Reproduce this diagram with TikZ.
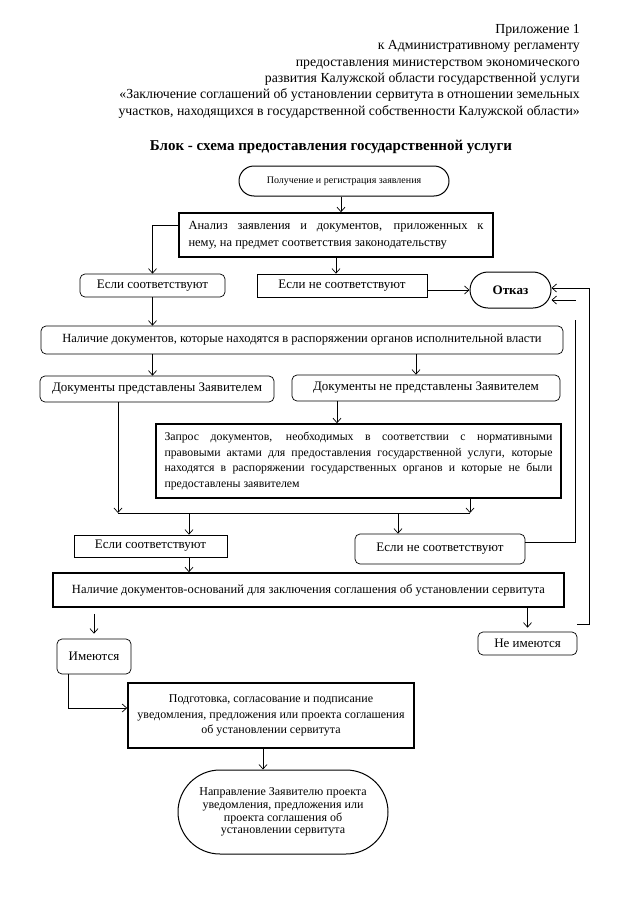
\documentclass[tikz,border=0pt]{standalone}
\usepackage{fontspec}
\setmainfont{Liberation Serif}
\usetikzlibrary{arrows.meta}
\begin{document}
\begin{tikzpicture}[x=1pt,y=-1pt,
  arr/.style={-{Straight Barb[length=4.5pt,width=8pt]}, line width=0.7pt},
  ln/.style={line width=0.7pt},
  boxr/.style={draw, line width=0.7pt, rounded corners=5pt, inner sep=0pt, align=center, font=\fontsize{13}{15}\selectfont},
  boxs/.style={draw, line width=0.7pt, inner sep=0pt, align=center, font=\fontsize{13}{15}\selectfont},
  boxt/.style={draw, line width=1.6pt, inner sep=0pt, align=center, font=\fontsize{12}{15.5}\selectfont},
  stad/.style={draw, line width=1pt, inner sep=0pt, align=center},
]
\useasboundingbox (0,0) rectangle (640,899);
\fill[white] (0,0) rectangle (640,899);

% header
\node[anchor=north east, inner sep=0pt, align=right, font=\fontsize{13.8}{16.4}\selectfont] (hdr) at (580,24)
 {Приложение 1\\
  к Административному регламенту\\
  предоставления министерством экономического\\
  развития Калужской области государственной услуги\\
  «Заключение соглашений об установлении сервитута в отношении земельных\\
  участков, находящихся в государственной собственности Калужской области»};
\node[inner sep=0pt, font=\bfseries\fontsize{15}{17}\selectfont] (ttl) at (331,147)
 {Блок - схема предоставления государственной услуги};

% nodes
\node[stad, minimum width=210pt, minimum height=30pt, rounded corners=15pt, font=\fontsize{10}{12}\selectfont] (start) at (344,181) {Получение и регистрация заявления};
\node[boxt, minimum width=314pt, minimum height=44pt, text width=295pt, align=justify, font=\fontsize{12.5}{17}\selectfont] (anal) at (336,235)
 {Анализ заявления и документов, приложенных к\linebreak нему, на предмет соответствия законодательству};
\node[boxr, minimum width=145pt, minimum height=23pt] (ifyes1) at (152.5,285.5) {Если соответствуют};
\node[boxs, minimum width=170pt, minimum height=23pt] (ifno1) at (342,285.5) {Если не соответствуют};
\node[stad, minimum width=81pt, minimum height=36pt, rounded corners=18pt, font=\bfseries\fontsize{13}{15}\selectfont] (refuse) at (510.5,290) {Отказ};
\node[boxr, minimum width=522pt, minimum height=28pt, font=\fontsize{12.5}{15}\selectfont] (avail) at (302,340) {Наличие документов, которые находятся в распоряжении органов исполнительной власти};
\node[boxr, minimum width=234pt, minimum height=26pt] (docyes) at (157,389) {Документы представлены Заявителем};
\node[boxr, minimum width=268pt, minimum height=26pt] (docno) at (426,388) {Документы не представлены Заявителем};
\node[boxt, minimum width=405pt, minimum height=74pt, text width=388pt, align=justify, font=\fontsize{11.8}{15.5}\selectfont] (query) at (358.5,461)
 {Запрос документов, необходимых в соответствии с нормативными\linebreak правовыми актами для предоставления государственной услуги, которые\linebreak находятся в распоряжении государственных органов и которые не были\linebreak предоставлены заявителем};
\node[boxs, minimum width=153pt, minimum height=22pt] (ifyes2) at (150.5,546) {Если соответствуют};
\node[boxr, minimum width=170pt, minimum height=30pt] (ifno2) at (440,549) {Если не соответствуют};
\node[boxt, minimum width=511pt, minimum height=34pt, font=\fontsize{12.5}{15}\selectfont] (basis) at (308.5,590) {Наличие документов-оснований для заключения соглашения об установлении сервитута};
\node[boxr, minimum width=74pt, minimum height=35pt] (have) at (94,656.5) {Имеются};
\node[boxr, minimum width=99pt, minimum height=23pt] (nohave) at (527.5,643.5) {Не имеются};
\node[boxt, minimum width=286pt, minimum height=65pt] (prep) at (271,715.5)
 {Подготовка, согласование и подписание\\ уведомления, предложения или проекта соглашения\\ об установлении сервитута};
\node[stad, minimum width=210pt, minimum height=84pt, rounded corners=42pt, font=\fontsize{12}{12.8}\selectfont] (send) at (283,812)
 {Направление Заявителю проекта\\ уведомления, предложения или\\ проекта соглашения об\\ установлении сервитута};

% connectors
\coordinate (j1) at (118,513);
\coordinate (j2) at (470,513);
\coordinate (b1) at (189,513);
\coordinate (b2) at (398,513);

\draw[arr] ([xshift=-3pt]start.south) -- ([xshift=-3pt]start.south |- anal.north);
\draw[arr] ([yshift=-13pt]anal.north west) -| (ifyes1.north);
\draw[arr] (anal.south) -- (anal.south |- ifno1.north);
\draw[arr] (ifno1.east |- refuse.west) -- (refuse.west);
\draw[arr] (ifyes1.south) -- (ifyes1.south |- avail.north);
\draw[arr] (ifyes1.south |- avail.south) -- (ifyes1.south |- docyes.north);
\draw[arr] ([xshift=-10pt]docno.north |- avail.south) -- ([xshift=-10pt]docno.north);
\draw[arr] ([xshift=-89pt]docno.south) -- ([xshift=-89pt]docno.south |- query.north);
\draw[arr] ([xshift=-39pt]docyes.south) -- (j1);
\draw[ln] (j1) -- (j2);
\draw[arr] (query.south -| j2) -- (j2);
\draw[arr] (b1) -- (b1 |- ifyes2.north);
\draw[arr] (b2) -- (b2 |- ifno2.north);
\draw[arr] (b1 |- ifyes2.south) -- (b1 |- basis.north);
\draw[arr] ([yshift=-6pt]basis.south -| have.north) -- ([yshift=5pt]have.north);
\draw[arr] (basis.south -| nohave.north) -- ([yshift=4pt]nohave.north);
\draw[arr] ([xshift=-26pt]have.south) |- ([yshift=7.5pt]prep.west);
\draw[arr] ([xshift=-8pt]prep.south) -- ([xshift=-8pt]prep.south |- send.north);
\draw[arr] ([yshift=7pt]nohave.north east) -- ++(12,0) |- ([yshift=2pt]refuse.east);
\draw[ln] ([yshift=7pt]ifno2.east) -- ++(50,0) -- ++(0,-222);
\draw[arr] ([shift={(24pt,-10pt)}]refuse.east) -- ([yshift=-10pt]refuse.east);
\end{tikzpicture}
\end{document}
